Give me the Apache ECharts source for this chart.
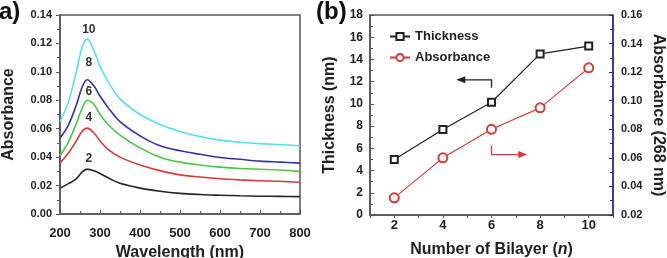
<!DOCTYPE html>
<html>
<head>
<meta charset="utf-8">
<script src="https://cdn.jsdelivr.net/npm/echarts@6/dist/echarts.min.js"></script>
<style>
html, body { margin: 0; padding: 0; background: #fff; }
#chart { width: 667px; height: 258px; }
</style>
</head>
<body>
<div id="chart"></div>
<script>
// (a) UV-vis spectra
var wavelength = [200, 220, 240, 255, 268, 285, 300, 320, 350, 400, 450, 500, 550, 600, 650, 700, 750, 800];
var abs2  = [0.0180, 0.0212, 0.0245, 0.0295, 0.0316, 0.0305, 0.0285, 0.0255, 0.0216, 0.0182, 0.0160, 0.0145, 0.0137, 0.0132, 0.0128, 0.0125, 0.0124, 0.0122];
var abs4  = [0.0358, 0.0425, 0.0510, 0.0580, 0.0604, 0.0570, 0.0515, 0.0455, 0.0400, 0.0345, 0.0305, 0.0275, 0.0260, 0.0248, 0.0240, 0.0234, 0.0230, 0.0223];
var abs6  = [0.0410, 0.0500, 0.0630, 0.0740, 0.0800, 0.0770, 0.0700, 0.0630, 0.0555, 0.0465, 0.0400, 0.0365, 0.0345, 0.0330, 0.0320, 0.0315, 0.0310, 0.0300];
var abs8  = [0.0534, 0.0620, 0.0760, 0.0890, 0.0945, 0.0900, 0.0830, 0.0750, 0.0650, 0.0550, 0.0480, 0.0445, 0.0420, 0.0398, 0.0385, 0.0372, 0.0365, 0.0358];
var abs10 = [0.0650, 0.0780, 0.0990, 0.1170, 0.1230, 0.1150, 0.1040, 0.0930, 0.0810, 0.0700, 0.0630, 0.0580, 0.0545, 0.0520, 0.0505, 0.0495, 0.0488, 0.0480];
var spectraLabels = ['2', '4', '6', '8', '10'];

// (b) thickness / absorbance vs bilayer number
var bilayers = [2, 4, 6, 8, 10];
var thickness = [5.0, 7.7, 10.15, 14.5, 15.2];
var absorbance268 = [0.032, 0.060, 0.080, 0.095, 0.123];

var FONT = '"Liberation Sans", Arial, sans-serif';
var dom = document.getElementById('chart');
var myChart = echarts.init(dom, null, { renderer: 'canvas' });

function pairs(xs, ys) {
  return xs.map(function (x, i) { return [x, ys[i]]; });
}

var spectra = [
  { name: '2',  values: abs2,  color: '#262626', lift: 10 },
  { name: '4',  values: abs4,  color: '#d63a3a', lift: 10 },
  { name: '6',  values: abs6,  color: '#46c846', lift: 9 },
  { name: '8',  values: abs8,  color: '#3434a8', lift: 17 },
  { name: '10', values: abs10, color: '#58e0e6', lift: 9 }
];

var spectraSeries = spectra.map(function (s, i) {
  var peak = Math.max.apply(null, s.values);
  return {
    name: 'n=' + s.name,
    type: 'line',
    xAxisIndex: 0,
    yAxisIndex: 0,
    data: pairs(wavelength, s.values),
    smooth: 0.35,
    showSymbol: false,
    lineStyle: { color: s.color, width: 1.6 },
    itemStyle: { color: s.color },
    silent: true,
    markPoint: {
      symbol: 'circle',
      symbolSize: 0,
      silent: true,
      data: [{ coord: [272, peak] }],
      label: {
        show: true,
        formatter: spectraLabels[i],
        offset: [0, -s.lift],
        color: '#333',
        fontFamily: FONT,
        fontWeight: 'bold',
        fontSize: 12
      }
    }
  };
});

var axisText = { fontFamily: FONT, fontWeight: 'bold', color: '#222' };

var option = {
  animation: false,
  backgroundColor: '#fff',
  textStyle: { fontFamily: FONT },
  grid: [
    { left: 60, top: 15, width: 240, height: 199, outerBoundsMode: 'none', containLabel: false, show: true, borderColor: '#555', borderWidth: 1.5, backgroundColor: 'transparent' },
    { left: 370, top: 15, width: 243, height: 200, outerBoundsMode: 'none', containLabel: false, show: true, borderColor: '#555', borderWidth: 1.5, backgroundColor: 'transparent' }
  ],
  legend: {
    data: ['Thickness', 'Absorbance'],
    orient: 'vertical',
    left: 384,
    top: 25,
    itemWidth: 20,
    itemHeight: 9,
    itemGap: 8,
    textStyle: { fontFamily: FONT, fontWeight: 'bold', fontSize: 13, color: '#222' }
  },
  xAxis: [
    {
      gridIndex: 0, type: 'value', min: 200, max: 800, interval: 100,
      name: 'Wavelength (nm)', nameLocation: 'middle', nameGap: 27,
      nameTextStyle: { fontFamily: FONT, fontWeight: 'bold', fontSize: 16, color: '#222' },
      axisLine: { lineStyle: { color: '#555', width: 1.5 } },
      axisTick: { inside: true, length: 4, lineStyle: { color: '#555' } },
      minorTick: { show: true, splitNumber: 2, length: 3, lineStyle: { color: '#555' } },
      axisLabel: Object.assign({ fontSize: 13, margin: 13 }, axisText),
      splitLine: { show: false }
    },
    {
      gridIndex: 1, type: 'value', min: 1, max: 11, interval: 1,
      name: 'Number of Bilayer ({i|n})', nameLocation: 'middle', nameGap: 27,
      nameTextStyle: {
        fontFamily: FONT, fontWeight: 'bold', fontSize: 16, color: '#222',
        rich: { i: { fontFamily: FONT, fontWeight: 'bold', fontStyle: 'italic', fontSize: 16, color: '#222' } }
      },
      axisLine: { lineStyle: { color: '#555', width: 1.5 } },
      axisTick: { inside: false, length: 3, lineStyle: { color: '#555' } },
      axisLabel: Object.assign({
        fontSize: 13, margin: 4,
        formatter: function (v) { return v % 2 === 0 ? String(v) : ''; }
      }, axisText),
      splitLine: { show: false }
    }
  ],
  yAxis: [
    {
      gridIndex: 0, type: 'value', min: 0, max: 0.14, interval: 0.02,
      name: 'Absorbance', nameLocation: 'middle', nameGap: 43,
      nameTextStyle: { fontFamily: FONT, fontWeight: 'bold', fontSize: 16, color: '#222' },
      axisLine: { lineStyle: { color: '#555', width: 1.5 } },
      axisTick: { inside: false, length: 4, lineStyle: { color: '#555' } },
      minorTick: { show: true, splitNumber: 2, length: 3, lineStyle: { color: '#555' } },
      axisLabel: Object.assign({ fontSize: 11, margin: 8, formatter: function (v) { return v.toFixed(2); } }, axisText),
      splitLine: { show: false }
    },
    {
      gridIndex: 1, type: 'value', min: 0, max: 18, interval: 2,
      name: 'Thickness (nm)', nameLocation: 'middle', nameGap: 32,
      nameTextStyle: { fontFamily: FONT, fontWeight: 'bold', fontSize: 16, color: '#222' },
      axisLine: { lineStyle: { color: '#555', width: 1.5 } },
      axisTick: { inside: true, length: 4, lineStyle: { color: '#555' } },
      minorTick: { show: true, splitNumber: 2, length: 3, lineStyle: { color: '#555' } },
      axisLabel: Object.assign({ fontSize: 12, margin: 7 }, axisText),
      splitLine: { show: false }
    },
    {
      gridIndex: 1, type: 'value', position: 'right', min: 0.02, max: 0.16, interval: 0.02,
      name: 'Absorbance (268 nm)', nameLocation: 'middle', nameGap: 37, nameRotate: -90,
      nameTextStyle: { fontFamily: FONT, fontWeight: 'bold', fontSize: 16, color: '#222' },
      axisLine: { lineStyle: { color: '#2b2b80', width: 1.5 } },
      axisTick: { inside: true, length: 4, lineStyle: { color: '#2b2b80' } },
      minorTick: { show: true, splitNumber: 2, length: 3, lineStyle: { color: '#2b2b80' } },
      axisLabel: Object.assign({ fontSize: 11, margin: 8, formatter: function (v) { return v.toFixed(2); } }, axisText),
      splitLine: { show: false }
    }
  ],
  series: spectraSeries.concat([
    {
      name: 'Thickness',
      type: 'line',
      xAxisIndex: 1,
      yAxisIndex: 1,
      data: pairs(bilayers, thickness),
      symbol: 'emptyRect',
      symbolSize: 7,
      lineStyle: { color: '#222', width: 1.2 },
      itemStyle: { color: '#222', borderWidth: 1.5 }
    },
    {
      name: 'Absorbance',
      type: 'line',
      xAxisIndex: 1,
      yAxisIndex: 2,
      data: pairs(bilayers, absorbance268),
      symbol: 'emptyCircle',
      symbolSize: 9,
      lineStyle: { color: '#d63a3a', width: 1.2 },
      itemStyle: { color: '#d63a3a', borderWidth: 1.5 }
    }
  ]),
  graphic: [
    { type: 'text', left: -1, top: 0, style: { text: 'a)', fontFamily: FONT, fontWeight: 'bold', fontSize: 24, fill: '#111' } },
    { type: 'text', left: 316, top: 0, z: 100, style: { text: '(b)', fontFamily: FONT, fontWeight: 'bold', fontSize: 24, fill: '#111', backgroundColor: '#fff' } }
  ]
};

myChart.setOption(option);

// pointing arrows in panel (b), placed in data space
function arrow(pts, yAxisIndex, color) {
  var px = pts.map(function (p) {
    return myChart.convertToPixel({ xAxisIndex: 1, yAxisIndex: yAxisIndex }, p);
  });
  var tip = px[px.length - 1];
  var prev = px[px.length - 2];
  var dir = tip[0] < prev[0] ? 1 : -1;
  var shaft = px.slice(0, -1).concat([[tip[0] + dir * 6, tip[1]]]);
  return [
    { type: 'polyline', shape: { points: shaft }, style: { stroke: color, lineWidth: 1.3, fill: null }, z: 50 },
    { type: 'polygon', shape: { points: [tip, [tip[0] + dir * 9, tip[1] - 3.5], [tip[0] + dir * 9, tip[1] + 3.5]] }, style: { fill: color }, z: 50 }
  ];
}

var arrows = arrow([[6, 11.45], [6, 12.17], [4.55, 12.17]], 1, '#222')
  .concat(arrow([[6, 0.0686], [6, 0.0623], [7.47, 0.0623]], 2, '#d63a3a'));

myChart.setOption({ graphic: option.graphic.concat(arrows) });

window.addEventListener('resize', myChart.resize);
</script>
</body>
</html>
